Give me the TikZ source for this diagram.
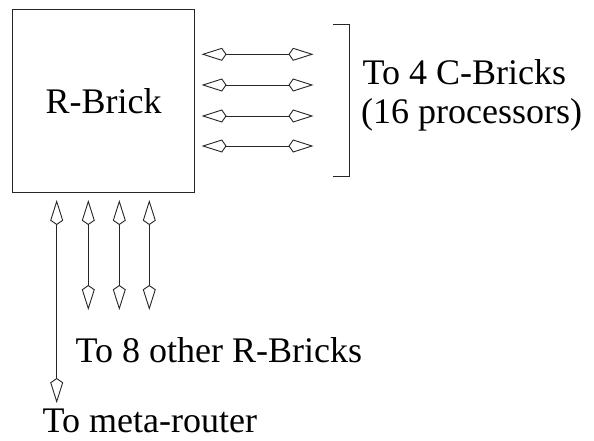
\documentclass[tikz,border=0pt]{standalone}
\usepackage{fontspec}
\setmainfont{Liberation Serif}
\usetikzlibrary{arrows.meta}
\begin{document}
\begin{tikzpicture}[x=1pt,y=-1pt,
  kitetip/.tip={Kite[open,fill=white,length=25pt,width=13pt,inset=4.5pt,line width=0.9pt]},
  wire/.style={line width=0.9pt, draw=black!85, kitetip-kitetip},
  label/.style={inner sep=0pt, anchor=base west, font=\fontsize{36}{40}\selectfont},
  brick/.style={draw=black!85, line width=1pt, minimum width=182pt, minimum height=183pt,
    inner sep=0pt, font=\fontsize{36}{40}\selectfont}]
  \useasboundingbox (0,0) rectangle (594,441);

  % router brick
  \node[brick] (rb) at (103.5,101) {R-Brick};

  % links to the C-Bricks
  \foreach \i/\y in {1/54.3,2/85,3/116,4/146}{
    \coordinate (cl\i) at (201.5,\y);
    \coordinate (cr\i) at (313.5,\y);
    \draw[wire] (cl\i) -- (cr\i);
  }

  % bracket grouping the C-Brick links
  \coordinate (bt) at (333,24);
  \coordinate (bb) at (333,176);
  \draw[line width=0.9pt, draw=black!85] (bt) -- ++(16,0) |- (bb);

  % links to the other R-Bricks
  \foreach \i/\x in {2/88.3,3/119.3,4/149.3}{
    \coordinate (rt\i) at (\x,200);
    \coordinate (rb\i) at (\x,310);
    \draw[wire] (rt\i) -- (rb\i);
  }

  % link to the meta-router
  \coordinate (mt) at (56.7,200);
  \coordinate (mb) at (56.7,403);
  \draw[wire] (mt) -- (mb);

  % captions
  \node[label] (c1) at (362.5,85) {To 4 C-Bricks};
  \node[label] (c2) at (361,124) {(16 processors)};
  \node[label] (c3) at (75.5,362) {To 8 other R-Bricks};
  \node[label] (c4) at (42.5,432) {To meta-router};
\end{tikzpicture}
\end{document}
